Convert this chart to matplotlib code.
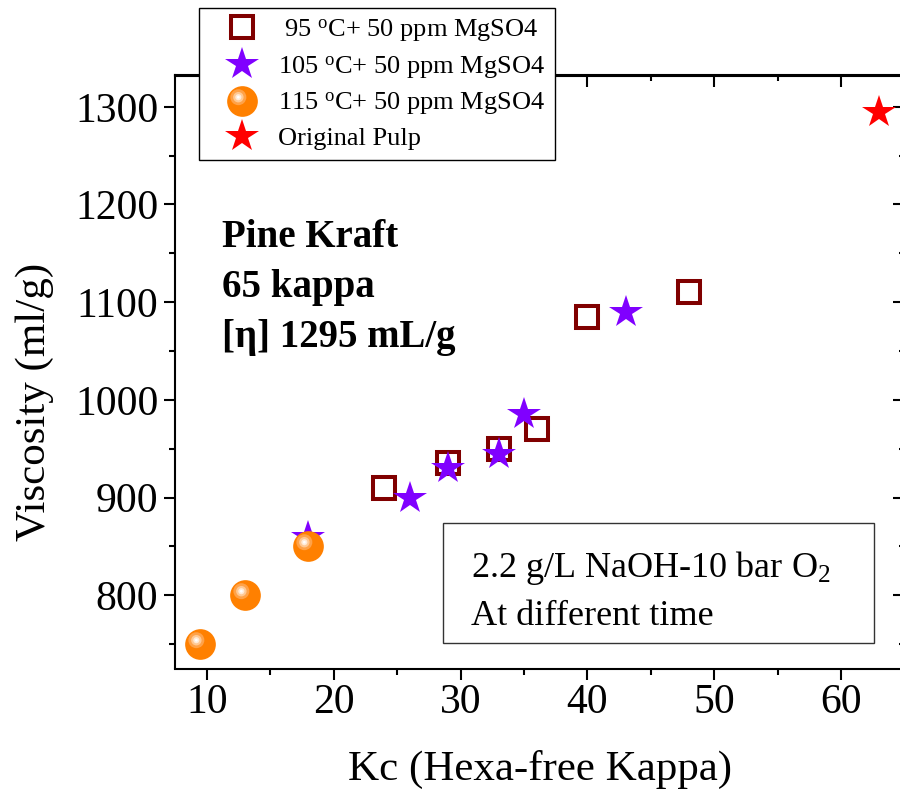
import matplotlib
matplotlib.use("Agg")
import matplotlib.pyplot as plt
from matplotlib.path import Path
from matplotlib.patches import Rectangle
from matplotlib.legend_handler import HandlerTuple
from matplotlib.ticker import MultipleLocator

plt.rcParams['font.family'] = ['Liberation Serif', 'DejaVu Serif']
plt.rcParams['mathtext.fontset'] = 'custom'
plt.rcParams['mathtext.rm'] = 'Liberation Serif'
plt.rcParams['mathtext.it'] = 'Liberation Serif:italic'
plt.rcParams['mathtext.bf'] = 'Liberation Serif:bold'

# data
kc_95 = [24, 29, 33, 36, 40, 48]
visc_95 = [910, 935, 950, 970, 1085, 1110]
kc_105 = [18, 26, 29, 33, 35, 43]
visc_105 = [860, 900, 930, 945, 985, 1090]
kc_115 = [9.5, 13, 18]
visc_115 = [750, 800, 850]
kc_orig = [63]
visc_orig = [1295]

labels = [r" 95 $^{\rm o}$C+ 50 ppm MgSO4",
          r"105 $^{\rm o}$C+ 50 ppm MgSO4",
          r"115 $^{\rm o}$C+ 50 ppm MgSO4",
          "Original Pulp"]

W, H = 900, 789
fig = plt.figure(figsize=(W / 100, H / 100), dpi=100)
ax = fig.add_axes([175 / W, 1 - 668.5 / H, 729.7 / W, 593 / H])


def blob(cx, cy, r):
    # circle marker shifted off centre; the two move-to points keep the scale
    frame = Path([(-1, -1), (1, 1)], [Path.MOVETO, Path.MOVETO])
    return Path.make_compound_path(frame, Path.circle((cx, cy), r))


l95, = ax.plot(kc_95, visc_95, ls="none", marker="s", ms=16.5, mfc="white",
               mec="#800000", mew=2.9, zorder=3)
l105, = ax.plot(kc_105, visc_105, ls="none", marker="*", ms=25,
                color="#8000FF", mew=0, zorder=4)
sphere = []
for r, c in [(1.0, "#FF8000"), (0.52, "#FFA248"), (0.34, "#FFC994"),
             (0.2, "#FFEBD8"), (0.09, "white")]:
    mk = "o" if r == 1.0 else blob(-0.27, 0.28, r)
    ln, = ax.plot(kc_115, visc_115, ls="none", marker=mk, ms=22.1,
                  color=c, mew=0, zorder=5)
    sphere.append(ln)
lorig, = ax.plot(kc_orig, visc_orig, ls="none", marker="*", ms=25,
                 color="#FF0000", mew=0, zorder=6, clip_on=False)

ax.set_xlim(7.5, 65)
ax.set_ylim(725, 1332)
ax.xaxis.set_major_locator(MultipleLocator(10))
ax.xaxis.set_minor_locator(MultipleLocator(5))
ax.yaxis.set_major_locator(MultipleLocator(100))
ax.yaxis.set_minor_locator(MultipleLocator(50))
ax.tick_params(which="major", direction="out", length=8, width=1.5,
               labelsize=30)
ax.tick_params(axis="x", which="major", pad=3)
ax.tick_params(axis="y", which="major", pad=4)
ax.tick_params(which="minor", direction="out", length=4.2, width=1.5)
for s in ax.spines.values():
    s.set_linewidth(1.5)

top = ax.secondary_xaxis("top")
top.xaxis.set_major_locator(MultipleLocator(10))
top.xaxis.set_minor_locator(MultipleLocator(5))
top.tick_params(which="major", direction="in", length=8.5, width=1.5, labeltop=False)
top.tick_params(which="minor", direction="in", length=4.3, width=1.5)
top.spines["top"].set_linewidth(1.5)
right = ax.secondary_yaxis("right")
right.yaxis.set_major_locator(MultipleLocator(100))
right.yaxis.set_minor_locator(MultipleLocator(50))
right.tick_params(which="major", direction="in", length=8.5, width=1.5, labelright=False)
right.tick_params(which="minor", direction="in", length=4.3, width=1.5)

ax.set_xlabel("Kc (Hexa-free Kappa)", fontsize=31)
ax.xaxis.set_label_coords(0.5, -0.188)
ax.xaxis.label.set_va("baseline")
ax.set_ylabel("Viscosity (ml/g)", fontsize=31)
ax.yaxis.set_label_coords(-0.192, 0.45)
ax.yaxis.label.set_va("center")

for y, t in [(0.7113, "Pine Kraft"), (0.627, "65 kappa"), (0.5425, "[η] 1295 mL/g")]:
    ax.text(0.064, y, t, transform=ax.transAxes, fontsize=28,
            fontweight="bold", va="baseline")

ax.add_patch(Rectangle((0.3669, 0.0425), 0.5914, 0.2034, transform=ax.transAxes,
                       fill=False, ec="#333333", lw=1.0, zorder=2))
ax.text(0.4056, 0.1548, "2.2 g/L NaOH-10 bar O$_2$", transform=ax.transAxes,
        fontsize=26, va="baseline")
ax.text(0.4056, 0.0734, "At different time", transform=ax.transAxes,
        fontsize=26, va="baseline")

leg = ax.legend([l95, l105, tuple(sphere), lorig], labels,
                handler_map={tuple: HandlerTuple(ndivide=1, pad=0)},
                loc="upper left", bbox_to_anchor=(199.3 / W, 1 - 8 / H),
                bbox_transform=fig.transFigure, borderaxespad=0,
                fontsize=19, frameon=True, fancybox=False, framealpha=1,
                edgecolor="black", handlelength=2.5, handletextpad=0.15,
                labelspacing=0.37, borderpad=0.35)
leg.get_frame().set_linewidth(1.0)
leg.set_zorder(10)

fig.savefig("out.png", dpi=100)
